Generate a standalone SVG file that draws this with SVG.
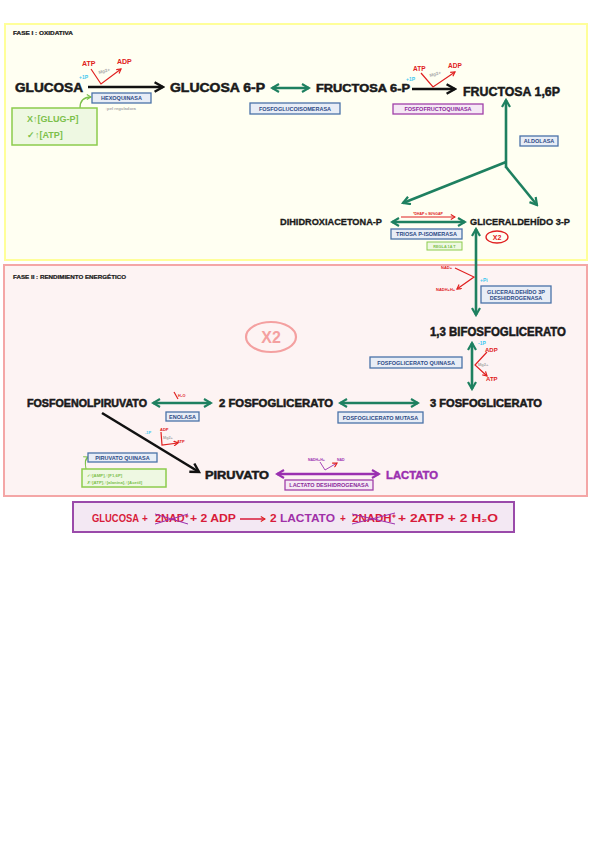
<svg xmlns="http://www.w3.org/2000/svg" width="599" height="848" viewBox="0 0 599 848">
<defs>
<style>
.t{font-family:"Liberation Sans",Arial,sans-serif;font-weight:bold;fill:#1a1a1a;stroke:#1a1a1a;stroke-width:0.5px}
.bx{fill:#e8edf6;stroke:#4a72a8;stroke-width:1.3}
.bt{font-family:"Liberation Sans",Arial,sans-serif;font-weight:bold;fill:#2c4a86;font-size:5.5px;text-anchor:middle}
.pbx{fill:#f5e8f5;stroke:#a040a8;stroke-width:1.3}
.pbt{font-family:"Liberation Sans",Arial,sans-serif;font-weight:bold;fill:#8a2a9a;font-size:5.5px;text-anchor:middle}
.gbx{fill:#eef8e2;stroke:#8ccc4c;stroke-width:1.5}
.gt{font-family:"Liberation Sans",Arial,sans-serif;font-weight:bold;fill:#7cc04a}
.red{font-family:"Liberation Sans",Arial,sans-serif;font-weight:bold;fill:#e02020}
.cy{font-family:"Liberation Sans",Arial,sans-serif;font-weight:bold;fill:#3ec8f0}
.gr{font-family:"Liberation Sans",Arial,sans-serif;font-weight:bold;fill:#a8a8a8}
.pu{font-family:"Liberation Sans",Arial,sans-serif;font-weight:bold;fill:#9a30b0}
.ga{stroke:#1e8060;stroke-width:2.6;fill:none}
.ka{stroke:#111;stroke-width:2.6;fill:none}
.ra{stroke:#e02020;stroke-width:1.2;fill:none}
.pa{stroke:#9a30b0;stroke-width:2.6;fill:none}
</style>
<marker id="gA" viewBox="0 0 10 10" refX="8" refY="5" markerWidth="10" markerHeight="10" markerUnits="userSpaceOnUse" orient="auto-start-reverse"><path d="M1,1 L8,5 L1,9" fill="none" stroke="#1e8060" stroke-width="2.2"/></marker>
<marker id="kA" viewBox="0 0 10 10" refX="8" refY="5" markerWidth="12" markerHeight="12" markerUnits="userSpaceOnUse" orient="auto"><path d="M1,1 L8,5 L1,9" fill="none" stroke="#111" stroke-width="2"/></marker>
<marker id="rA" viewBox="0 0 10 10" refX="8" refY="5" markerWidth="6" markerHeight="6" markerUnits="userSpaceOnUse" orient="auto"><path d="M1,1 L8,5 L1,9" fill="none" stroke="#e02020" stroke-width="2"/></marker>
<marker id="pA" viewBox="0 0 10 10" refX="8" refY="5" markerWidth="10" markerHeight="10" markerUnits="userSpaceOnUse" orient="auto-start-reverse"><path d="M1,1 L8,5 L1,9" fill="none" stroke="#9a30b0" stroke-width="2.2"/></marker>
<marker id="lgA" viewBox="0 0 10 10" refX="8" refY="5" markerWidth="6" markerHeight="6" markerUnits="userSpaceOnUse" orient="auto"><path d="M1,1 L8,5 L1,9" fill="none" stroke="#7cc04a" stroke-width="2"/></marker>
</defs>
<rect width="599" height="848" fill="#ffffff"/>

<g id="fase1">
<rect x="5" y="24" width="582" height="236" fill="#fffff2" stroke="#ffff99" stroke-width="2"/>
<text class="t" x="13" y="35" font-size="5" textLength="60" lengthAdjust="spacingAndGlyphs" style="stroke-width:0.2px">FASE I : OXIDATIVA</text>
</g>
<g id="fase2">
<rect x="4" y="265" width="583" height="231" fill="#fdf3f3" stroke="#f4a6a6" stroke-width="2"/>
<text class="t" x="13" y="279" font-size="5" textLength="113" lengthAdjust="spacingAndGlyphs" style="stroke-width:0.2px">FASE II : RENDIMIENTO ENERGÉTICO</text>
<ellipse cx="271" cy="337" rx="25" ry="15" fill="none" stroke="#f4a0a0" stroke-width="2.2"/>
<text x="271" y="343" font-family="Liberation Sans,Arial,sans-serif" font-weight="bold" font-size="16" fill="#f4a0a0" text-anchor="middle">X2</text>
</g>

<g id="connectors">
<line class="ka" x1="88" y1="87" x2="163" y2="87" marker-end="url(#kA)"/>
<line class="ga" x1="272" y1="88" x2="309" y2="88" marker-start="url(#gA)" marker-end="url(#gA)"/>
<line class="ka" x1="412" y1="89" x2="455" y2="89" marker-end="url(#kA)"/>
<line class="ga" x1="506" y1="168" x2="506" y2="100" marker-end="url(#gA)"/>
<line class="ga" x1="506" y1="162" x2="403" y2="203" marker-end="url(#gA)"/>
<line class="ga" x1="506" y1="167" x2="537" y2="205" marker-end="url(#gA)"/>
<line class="ga" x1="392" y1="222" x2="465" y2="222" marker-start="url(#gA)" marker-end="url(#gA)"/>
<line class="ga" x1="476" y1="229" x2="476" y2="315" marker-start="url(#gA)" marker-end="url(#gA)"/>
<line class="ga" x1="472" y1="343" x2="472" y2="389" marker-start="url(#gA)" marker-end="url(#gA)"/>
<line class="ga" x1="153" y1="403" x2="211" y2="403" marker-start="url(#gA)" marker-end="url(#gA)"/>
<line class="ga" x1="340" y1="403" x2="418" y2="403" marker-start="url(#gA)" marker-end="url(#gA)"/>
<line class="ka" x1="102" y1="413" x2="199" y2="472" marker-end="url(#kA)"/>
<line class="pa" x1="277" y1="474" x2="379" y2="474" marker-start="url(#pA)" marker-end="url(#pA)"/>
<path d="M80,108 Q80,97 91,97" stroke="#7cc04a" stroke-width="1.3" fill="none" marker-end="url(#lgA)"/>
<path d="M86,469 Q84,459 88,457" stroke="#7cc04a" stroke-width="1.1" fill="none" marker-end="url(#lgA)"/>
<polyline class="ra" points="91,69 101,84 121,69" marker-end="url(#rA)" stroke-width="1.6"/>
<polyline class="ra" points="421,73 433,87 455,72" marker-end="url(#rA)" stroke-width="1.6"/>
<line class="ra" x1="401" y1="217" x2="455" y2="217" marker-end="url(#rA)" stroke-width="0.8"/>
<polyline class="ra" points="455,268 474,277 457,289" marker-end="url(#rA)" stroke-width="0.9"/>
<polyline class="ra" points="487,352 475,365 487,376" marker-end="url(#rA)" stroke-width="1"/>
<line class="ra" x1="174" y1="392" x2="178" y2="399" stroke-width="1"/>
<polyline class="ra" points="161,432 162,445 178,443" marker-end="url(#rA)" stroke-width="0.9"/>
<polyline points="320,462 325,470 337,463" stroke="#9a30b0" stroke-width="0.9" fill="none" marker-end="url(#rA)"/>
</g>

<g id="glucosa"><text class="t" x="15" y="92" font-size="12" textLength="68" lengthAdjust="spacingAndGlyphs">GLUCOSA</text></g>
<g id="hexoquinasa">
<rect class="bx" x="92" y="93" width="59" height="10"/>
<text class="bt" x="121.5" y="100.3">HEXOQUINASA</text>
<text class="gr" x="105" y="110" font-size="4.2">↑pel reguladora</text>
<text class="red" x="82" y="66" font-size="7">ATP</text>
<text class="red" x="117" y="64" font-size="7">ADP</text>
<text class="cy" x="79" y="79" font-size="5">+1P</text>
<text class="gr" x="99" y="74" font-size="4.5" transform="rotate(-15 99 74)">Mg2+</text>
</g>
<g id="reg-hexo">
<rect class="gbx" x="12" y="108" width="85" height="37"/>
<text class="gt" x="27" y="122" font-size="9">X↑[GLUG-P]</text>
<text class="gt" x="27" y="138" font-size="9">✓↑[ATP]</text>
</g>
<g id="glucosa6p"><text class="t" x="170" y="92" font-size="12" textLength="95" lengthAdjust="spacingAndGlyphs">GLUCOSA 6-P</text></g>
<g id="fosfoglucoisomerasa">
<rect class="bx" x="250" y="103" width="90" height="11"/>
<text class="bt" x="295" y="110.8">FOSFOGLUCOISOMERASA</text>
</g>
<g id="fructosa6p"><text class="t" x="316" y="92" font-size="11" textLength="94" lengthAdjust="spacingAndGlyphs">FRUCTOSA 6-P</text></g>
<g id="pfk">
<rect class="pbx" x="393" y="104" width="90" height="10"/>
<text class="pbt" x="438" y="111.2">FOSFOFRUCTOQUINASA</text>
<text class="red" x="413" y="71" font-size="6.5">ATP</text>
<text class="red" x="448" y="68" font-size="6.5">ADP</text>
<text class="cy" x="406" y="81" font-size="5">+1P</text>
<text class="gr" x="430" y="77" font-size="4.5" transform="rotate(-15 430 77)">Mg2+</text>
</g>
<g id="fructosa16p"><text class="t" x="463" y="96" font-size="13" textLength="97" lengthAdjust="spacingAndGlyphs">FRUCTOSA 1,6P</text></g>
<g id="aldolasa">
<rect class="bx" x="520" y="136" width="38" height="10"/>
<text class="bt" x="539" y="143.2">ALDOLASA</text>
</g>
<g id="dhap"><text class="t" x="280" y="225" font-size="9" textLength="102" lengthAdjust="spacingAndGlyphs" style="stroke-width:0.3px">DIHIDROXIACETONA-P</text></g>
<g id="tpi">
<text class="red" x="428" y="215" font-size="3.5" text-anchor="middle">*DHAP ≤ 96%GAP</text>
<rect class="bx" x="391" y="229" width="71" height="10"/>
<text class="bt" x="426.5" y="236.3">TRIOSA P-ISOMERASA</text>
<rect x="427" y="242" width="35" height="8" fill="#eef8e2" stroke="#8ccc4c" stroke-width="1"/>
<text class="gt" x="444.5" y="247.6" font-size="3.8" text-anchor="middle">REGLA 1A T</text>
</g>
<g id="g3p">
<text class="t" x="470" y="225" font-size="9" textLength="100" lengthAdjust="spacingAndGlyphs" style="stroke-width:0.3px">GLICERALDEHÍDO 3-P</text>
<ellipse cx="497" cy="237" rx="11" ry="6" fill="none" stroke="#e02020" stroke-width="1.3"/>
<text class="red" x="497" y="240" font-size="7" text-anchor="middle">X2</text>
</g>
<g id="gapdh">
<text class="red" x="441" y="269" font-size="4">NAD+</text>
<text class="red" x="436" y="291" font-size="4">NADH+H+</text>
<text class="cy" x="480" y="282" font-size="5">+Pi</text>
<rect class="bx" x="481" y="286" width="70" height="17"/>
<text class="bt" x="516" y="293.5" font-size="5">GLICERALDEHÍDO 3P</text>
<text class="bt" x="516" y="300" font-size="5">DESHIDROGENASA</text>
</g>
<g id="bifosfoglicerato"><text class="t" x="430" y="336" font-size="12" textLength="136" lengthAdjust="spacingAndGlyphs">1,3 BIFOSFOGLICERATO</text></g>
<g id="pgk">
<rect class="bx" x="370" y="357" width="92" height="11"/>
<text class="bt" x="416" y="364.8">FOSFOGLICERATO QUINASA</text>
<text class="cy" x="478" y="345" font-size="5">-1P</text>
<text class="red" x="485" y="352" font-size="6">ADP</text>
<text class="red" x="486" y="381" font-size="6">ATP</text>
<text class="gr" x="478" y="366" font-size="4">Mg2+</text>
</g>
<g id="fosfoenolpiruvato"><text class="t" x="27" y="407" font-size="10" textLength="120" lengthAdjust="spacingAndGlyphs">FOSFOENOLPIRUVATO</text></g>
<g id="enolasa">
<text class="red" x="178" y="397" font-size="3.8">H₂O</text>
<rect class="bx" x="166" y="412" width="33" height="9"/>
<text class="bt" x="182.5" y="418.6" font-size="5">ENOLASA</text>
</g>
<g id="fosfoglicerato2"><text class="t" x="219" y="407" font-size="10" textLength="114" lengthAdjust="spacingAndGlyphs">2 FOSFOGLICERATO</text></g>
<g id="mutasa">
<rect class="bx" x="338" y="412" width="85" height="11"/>
<text class="bt" x="380.5" y="419.6" font-size="5">FOSFOGLICERATO MUTASA</text>
</g>
<g id="fosfoglicerato3"><text class="t" x="430" y="407" font-size="10" textLength="112" lengthAdjust="spacingAndGlyphs">3 FOSFOGLICERATO</text></g>
<g id="pk">
<text class="cy" x="145" y="434" font-size="4">-1P</text>
<text class="red" x="160" y="431" font-size="4">ADP</text>
<text class="gr" x="163" y="439" font-size="3.8">Mg2+</text>
<text class="red" x="177" y="443" font-size="4">ATP</text>
<rect class="bx" x="88" y="453" width="69" height="9"/>
<text class="bt" x="122.5" y="459.6" font-size="5">PIRUVATO QUINASA</text>
</g>
<g id="reg-pk">
<rect class="gbx" x="82" y="469" width="84" height="18" stroke-width="1.2"/>
<text class="gt" x="87" y="477" font-size="4.3">✓↑[AMP],↑[F1,6P]</text>
<text class="gt" x="87" y="484" font-size="4.3">✗↑[ATP],↑[alanina],↑[Acetil]</text>
</g>
<g id="piruvato"><text class="t" x="205" y="479" font-size="11" textLength="64" lengthAdjust="spacingAndGlyphs">PIRUVATO</text></g>
<g id="ldh">
<text class="pu" x="308" y="461" font-size="3.5">NADH+H+</text>
<text class="pu" x="337" y="461" font-size="3.5">NAD</text>
<rect class="pbx" x="285" y="480" width="88" height="10"/>
<text class="pbt" x="329" y="487.3" font-size="5">LACTATO DESHIDROGENASA</text>
</g>
<g id="lactato"><text class="pu" x="386" y="479" font-size="10" textLength="52" lengthAdjust="spacingAndGlyphs" style="stroke:#9a30b0;stroke-width:0.4px">LACTATO</text></g>

<g id="ecuacion">
<rect x="73" y="502" width="441" height="30" fill="#f3e8f3" stroke="#9a4aaa" stroke-width="2"/>
<g font-family="Liberation Sans,Arial,sans-serif" font-weight="bold" font-size="10" fill="#d81b3a">
<text x="92" y="522" textLength="47" lengthAdjust="spacingAndGlyphs">GLUCOSA</text>
<text x="142" y="522">+</text>
<text x="155" y="522" textLength="33" lengthAdjust="spacingAndGlyphs">2NAD⁺</text>
<text x="190" y="522" textLength="46" lengthAdjust="spacingAndGlyphs">+ 2 ADP</text>
<text x="270" y="522" textLength="65" lengthAdjust="spacingAndGlyphs">2 <tspan fill="#a030a8">LACTATO</tspan></text>
<text x="340" y="522">+</text>
<text x="352" y="522" textLength="43" lengthAdjust="spacingAndGlyphs">2NADH⁺</text>
<text x="398" y="522" textLength="100" lengthAdjust="spacingAndGlyphs">+ 2ATP + 2 H₂O</text>
</g>
<line x1="240" y1="519" x2="265" y2="519" stroke="#d81b3a" stroke-width="1.5" marker-end="url(#rA)"/>
<line x1="155" y1="514" x2="188" y2="524" stroke="#9a30b0" stroke-width="1"/>
<line x1="155" y1="524" x2="188" y2="514" stroke="#9a30b0" stroke-width="1"/>
<line x1="352" y1="514" x2="395" y2="524" stroke="#9a30b0" stroke-width="1"/>
<line x1="352" y1="524" x2="395" y2="513" stroke="#9a30b0" stroke-width="1"/>
</g>
</svg>
